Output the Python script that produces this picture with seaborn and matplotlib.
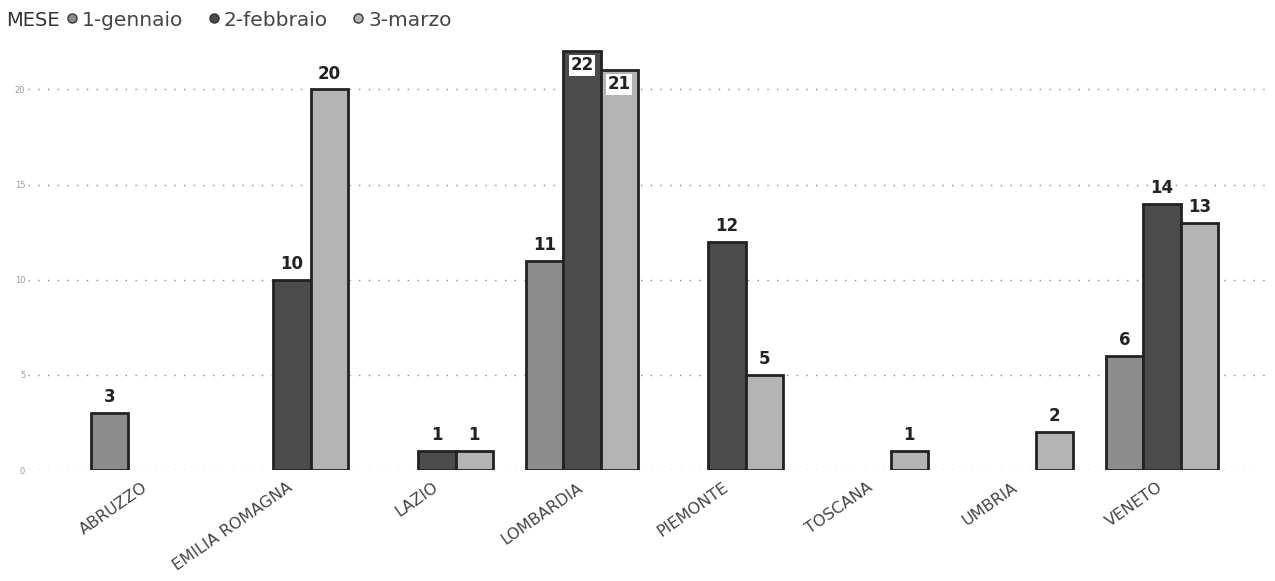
import pandas as pd
import numpy as np
import seaborn as sns
import matplotlib.pyplot as plt
from matplotlib.lines import Line2D
from matplotlib.transforms import ScaledTranslation

regions = ["ABRUZZO", "EMILIA ROMAGNA", "LAZIO", "LOMBARDIA",
           "PIEMONTE", "TOSCANA", "UMBRIA", "VENETO"]
months = ["1-gennaio", "2-febbraio", "3-marzo"]

gennaio = [3, None, None, 11, None, None, None, 6]
febbraio = [None, 10, 1, 22, 12, None, None, 14]
marzo = [None, 20, 1, 21, 5, 1, 2, 13]

colors = ["#8c8c8c", "#4b4b4b", "#b4b4b4"]

# long form table for seaborn
rows = []
for m, vals in zip(months, [gennaio, febbraio, marzo]):
    for r, v in zip(regions, vals):
        if v is not None:
            rows.append({"REGIONE": r, "MESE": m, "value": v})
df = pd.DataFrame(rows)

sns.set_style("white")
plt.rcParams["font.family"] = ["DejaVu Sans"]

fig = plt.figure(figsize=(12.75, 5.81), dpi=100)
ax = fig.add_axes([28 / 1275, (581 - 470) / 581, (1265 - 28) / 1275, (470 - 40) / 581])

sns.barplot(data=df, x="REGIONE", y="value", hue="MESE", order=regions,
            hue_order=months, palette=colors, width=0.77, dodge=True,
            edgecolor="#222222", linewidth=2, ax=ax, legend=False)

# data labels
for cont in ax.containers:
    for bar in cont:
        h = bar.get_height()
        if np.isnan(h) or h == 0:
            continue
        x = bar.get_x() + bar.get_width() / 2
        if h > 20:
            ax.text(x, h - 0.25, f"{int(h)}", ha="center", va="top",
                    fontsize=12, fontweight="bold", color="#222222",
                    bbox=dict(facecolor="white", edgecolor="none", pad=1))
        else:
            ax.text(x, h + 0.35, f"{int(h)}", ha="center", va="bottom",
                    fontsize=12, fontweight="bold", color="#222222")

ax.set_xlim(-0.82, 7.71)
ax.set_ylim(0, 22.6)
ax.set_yticks([0, 5, 10, 15, 20])
ax.set_yticklabels(["0", "5", "10", "15", "20"], fontsize=6, color="#9a9a9a")
ax.tick_params(axis="y", length=0, pad=2)
ax.set_xticks(range(len(regions)))
ax.set_xticklabels(regions, rotation=35, ha="right", rotation_mode="anchor",
                   fontsize=11.5, color="#444444")
ax.tick_params(axis="x", length=0, pad=7)
shift = ScaledTranslation(-5 / 100, 0, fig.dpi_scale_trans)
for lab in ax.get_xticklabels():
    lab.set_transform(lab.get_transform() + shift)
ax.set_xlabel("")
ax.set_ylabel("")
ax.grid(axis="y", linestyle=(0, (1, 6)), color="#888888", linewidth=1)
ax.set_axisbelow(True)
for s in ax.spines.values():
    s.set_visible(False)

# legend across the top
fig.text(6 / 1275, 1 - 20 / 581, "MESE", fontsize=14, color="#333333",
         va="center", ha="left")
handles = [Line2D([], [], marker="o", linestyle="", markersize=6.5,
                  markerfacecolor=c, markeredgecolor="#333333") for c in colors]
fig.legend(handles, months, loc="center left", bbox_to_anchor=(64 / 1275, 1 - 20 / 581),
           ncol=3, frameon=False, fontsize=14.5, handletextpad=0.1, borderpad=0,
           handlelength=0.8, columnspacing=1.1, labelcolor="#444444", borderaxespad=0)

fig.savefig("out.png", dpi=100)
